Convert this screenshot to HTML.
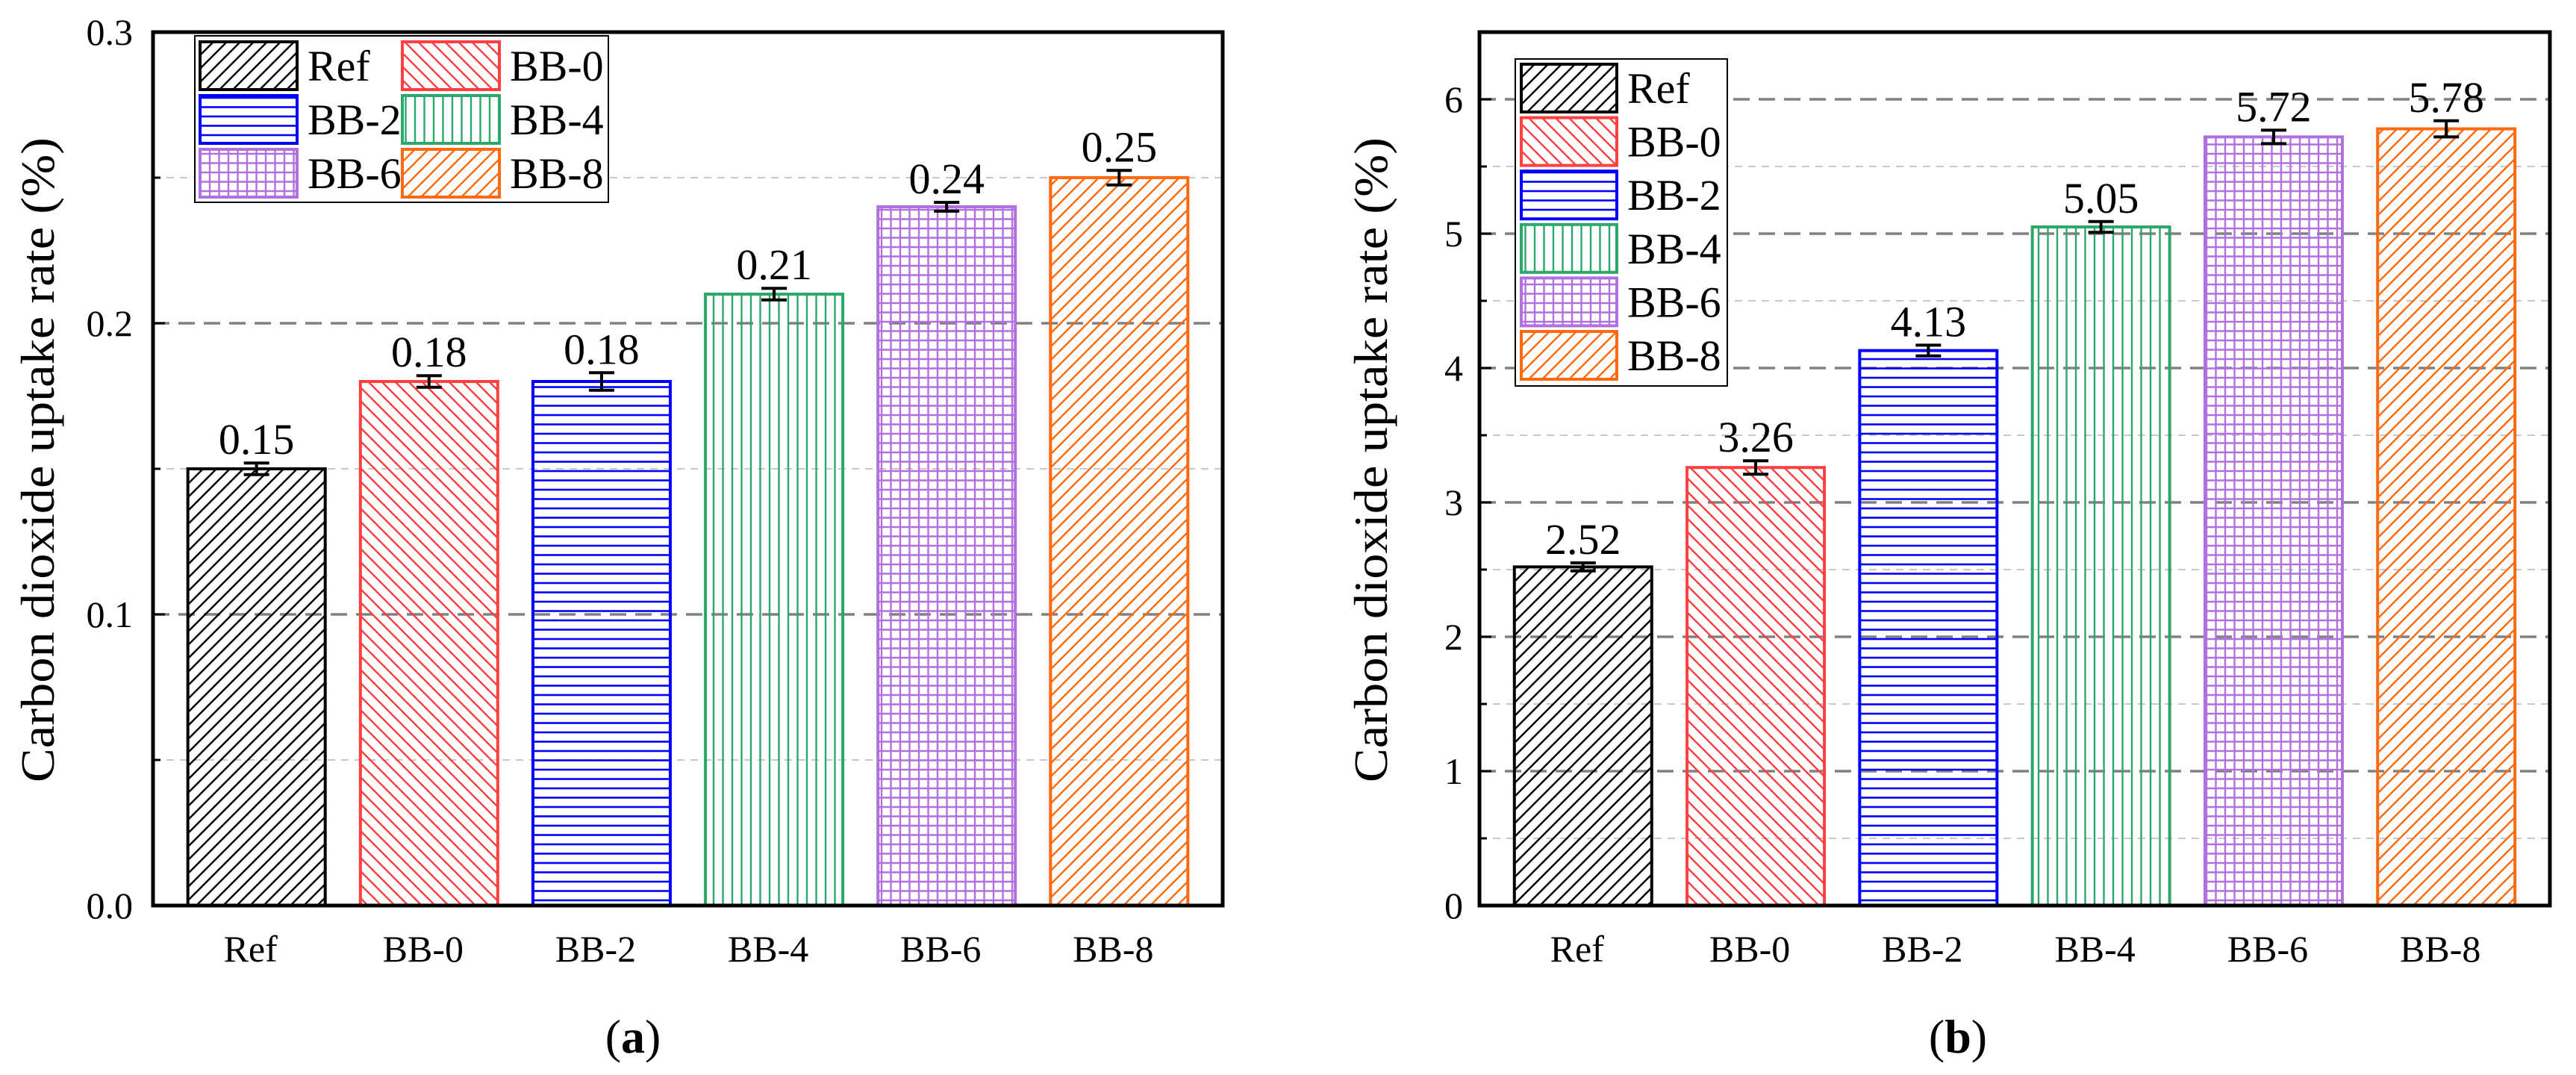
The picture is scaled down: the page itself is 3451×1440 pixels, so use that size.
<!DOCTYPE html>
<html><head><meta charset="utf-8"><style>
html,body{margin:0;padding:0;background:#fff;}
svg{display:block;}
svg text{font-family:"Liberation Serif","DejaVu Serif",serif;}
</style></head><body>
<svg id="fig" width="3451" height="1440" viewBox="0 0 3451 1440" xmlns="http://www.w3.org/2000/svg">
<defs>
<pattern id="p-ref" patternUnits="userSpaceOnUse" width="18" height="18"><path d="M-2,20 L20,-2 M-2,2 L2,-2 M16,20 L20,16" stroke="#000" stroke-width="2.4"/></pattern>
<pattern id="p-bb0" patternUnits="userSpaceOnUse" width="18" height="18"><path d="M-2,-2 L20,20 M16,-2 L20,2 M-2,16 L2,20" stroke="#ff4040" stroke-width="2.4"/></pattern>
<pattern id="p-bb2" patternUnits="userSpaceOnUse" width="12.5" height="12.5"><path d="M0,6 L12.5,6" stroke="#0000ff" stroke-width="2.6"/></pattern>
<pattern id="p-bb4" patternUnits="userSpaceOnUse" width="12.5" height="12.5"><path d="M6,0 L6,12.5" stroke="#2ca86a" stroke-width="2.4"/></pattern>
<pattern id="p-bb6" patternUnits="userSpaceOnUse" width="12.5" height="12.5"><path d="M6,0 L6,12.5 M0,6 L12.5,6" stroke="#b070e0" stroke-width="2.4"/></pattern>
<pattern id="p-bb8" patternUnits="userSpaceOnUse" width="18" height="18"><path d="M-2,20 L20,-2 M-2,2 L2,-2 M16,20 L20,16" stroke="#ff6a10" stroke-width="2.4"/></pattern>
</defs>
</svg>
<script>
const categories = ["Ref","BB-0","BB-2","BB-4","BB-6","BB-8"];
const valuesA = [0.15,0.18,0.18,0.21,0.24,0.25];
const errorsA = [0.002,0.002,0.003,0.002,0.0015,0.0025];
const labelsA = ["0.15","0.18","0.18","0.21","0.24","0.25"];
const ticksA = [0.0,0.1,0.2,0.3];
const tickLabelsA = ["0.0","0.1","0.2","0.3"];
const minorA = [0.05,0.15,0.25];
const valuesB = [2.52,3.26,4.13,5.05,5.72,5.78];
const errorsB = [0.03,0.05,0.04,0.04,0.05,0.06];
const labelsB = ["2.52","3.26","4.13","5.05","5.72","5.78"];
const ticksB = [0,1,2,3,4,5,6];
const tickLabelsB = ["0","1","2","3","4","5","6"];
const minorB = [0.5,1.5,2.5,3.5,4.5,5.5];

const colors = ["#000000","#ff4040","#0000ff","#2ca86a","#b070e0","#ff6a10"];
const pats = ["p-ref","p-bb0","p-bb2","p-bb4","p-bb6","p-bb8"];
const NS = "http://www.w3.org/2000/svg";
const FONT = "Liberation Serif, DejaVu Serif, serif";
const svg = document.getElementById("fig");
function mk(tag, attrs, parent, text){
  const e = document.createElementNS(NS, tag);
  for (const k in attrs) e.setAttribute(k, attrs[k]);
  if (tag === "text") e.setAttribute("font-family", FONT);
  if (text !== undefined) e.textContent = text;
  (parent || svg).appendChild(e);
  return e;
}

function drawPanel(cfg){
  const g = mk("g", {});
  
  
  const L = cfg.left, R = cfg.right, T = 43, B = 1213;
  const xs = v => L + (v - 0.4) / 6.2 * (R - L);
  const ys = v => B - (v - cfg.ymin) / (cfg.ymax - cfg.ymin) * (B - T);
  cfg.minor.forEach(v => {
    const l = mk("line", {x1:L, x2:R, y1:ys(v), y2:ys(v), stroke:"#c8c8c8", "stroke-width":2, "stroke-dasharray":"10 8"}, g);
    
    
    const t = mk("line", {x1:L, x2:L+10, y1:ys(v), y2:ys(v), stroke:"#000", "stroke-width":3}, g);
    
    
  });
  cfg.ticks.forEach((v, i) => {
    if (v > cfg.ymin && v < cfg.ymax) {
      const l = mk("line", {x1:L, x2:R, y1:ys(v), y2:ys(v), stroke:"#808080", "stroke-width":3.5, "stroke-dasharray":"22 12"}, g);
      
      
      const t = mk("line", {x1:L, x2:L+16, y1:ys(v), y2:ys(v), stroke:"#000", "stroke-width":3}, g);
      
      
    }
    const tl = mk("text", {x:cfg.tickX, y:ys(v)+17, "text-anchor":"end", "font-size":50}, g, cfg.tickLabels[i]);
    
    
  });
  const bw = 184;
  categories.forEach((c, i) => {
    const cx = xs(i + 1);
    const y0 = ys(cfg.values[i]);
    const b = mk("rect", {x:cx - bw/2, y:y0, width:bw, height:B - y0, fill:"url(#"+pats[i]+")", stroke:colors[i], "stroke-width":4}, g);
    
    
    const yt = ys(cfg.values[i] + cfg.errors[i]), yb = ys(cfg.values[i] - cfg.errors[i]);
    const e = mk("path", {d:`M${cx},${yt} L${cx},${yb} M${cx-17},${yt} L${cx+17},${yt} M${cx-17},${yb} L${cx+17},${yb}`, stroke:"#000", "stroke-width":4, fill:"none"}, g);
    
    
    const vl = mk("text", {x:cx, y:yt - 12, "text-anchor":"middle", "font-size":58}, g, cfg.labels[i]);
    
    
    const xl = mk("text", {x:cx - 8, y:1288, "text-anchor":"middle", "font-size":50}, g, c);
    
    
  });
  const f = mk("rect", {x:L, y:T, width:R-L, height:B-T, fill:"none", stroke:"#000", "stroke-width":5}, g);
  
  
  const yt = mk("text", {x:0, y:0, transform:`translate(${cfg.titleX},616) rotate(-90)`, "text-anchor":"middle", "font-size":64, textLength:864, lengthAdjust:"spacingAndGlyphs"}, g, "Carbon dioxide uptake rate (%)");
  
  
  const pl = mk("text", {x:cfg.panelX, y:1410, "text-anchor":"middle", "font-size":64}, g);
  
  
  mk("tspan", {}, pl, "(");
  mk("tspan", {"font-weight":"bold"}, pl, cfg.panel);
  mk("tspan", {}, pl, ")");
  const lg = mk("g", {}, g);
  
  
  mk("rect", {x:cfg.leg.x, y:cfg.leg.y, width:cfg.leg.w, height:cfg.leg.h, fill:"#fff", stroke:"#000", "stroke-width":2}, lg);
  categories.forEach((c, i) => {
    const col = cfg.leg.cols === 2 ? i % 2 : 0;
    const row = cfg.leg.cols === 2 ? Math.floor(i / 2) : i;
    const sx = cfg.leg.sx[col], sy = cfg.leg.sy + row * cfg.leg.pitch;
    const ent = mk("g", {}, lg);
    
    
    mk("rect", {x:sx, y:sy, width:cfg.leg.sw, height:64, fill:"url(#"+pats[i]+")", stroke:colors[i], "stroke-width":4}, ent);
    mk("text", {x:sx + cfg.leg.sw + 14, y:sy + 52, "font-size":58}, ent, c);
  });
}

drawPanel({name:"chart-a", left:205, right:1638, ymin:0, ymax:0.3, values:valuesA, errors:errorsA, labels:labelsA,
  ticks:ticksA, tickLabels:tickLabelsA, minor:minorA, tickX:178, titleX:72, panel:"a", panelX:848,
  leg:{x:261, y:48, w:554, h:223, cols:2, sx:[268,539], sy:56, pitch:72, sw:130}});
drawPanel({name:"chart-b", left:1982, right:3416, ymin:0, ymax:6.5, values:valuesB, errors:errorsB, labels:labelsB,
  ticks:ticksB, tickLabels:tickLabelsB, minor:minorB, tickX:1960, titleX:1858, panel:"b", panelX:2623,
  leg:{x:2030, y:79, w:284, h:438, cols:1, sx:[2038], sy:86, pitch:71.6, sw:128}});
</script>
</body></html>
